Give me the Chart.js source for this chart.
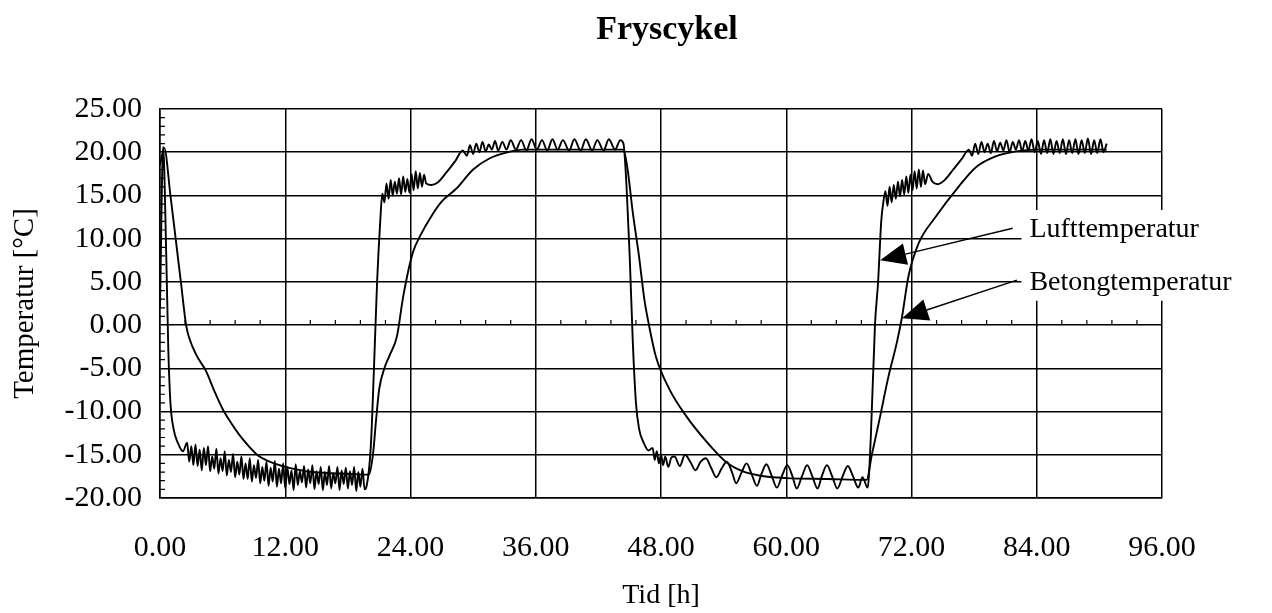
<!DOCTYPE html>
<html>
<head>
<meta charset="utf-8">
<title>Fryscykel</title>
<script src="https://cdn.jsdelivr.net/npm/chart.js@4"></script>
<style>
  html, body { margin: 0; padding: 0; background: #fff; }
  #wrap { width: 1272px; height: 613px; }
</style>
</head>
<body>
<div id="wrap"><canvas id="graf" width="1272" height="613"></canvas></div>
<script>
// Lufttemperatur: tid [h] och temperatur [°C]
const luftTid = [
  0, 0.3, 0.6, 0.8, 1.0, 1.3, 1.7, 2.2,
  2.6, 2.8, 3.0, 3.2, 3.4, 3.6, 3.8, 4.0, 4.2, 4.4, 4.6, 4.8, 5.0, 5.2, 5.4, 5.6, 5.8, 6.0,
  6.2, 6.4, 6.6, 6.8, 7.0, 7.2, 7.4, 7.6, 7.8, 8.0, 8.2, 8.4, 8.6, 8.8, 9.0, 9.2, 9.4, 9.6,
  9.8, 10.0, 10.2, 10.4, 10.6, 10.8, 11.0, 11.2, 11.4, 11.6, 11.8, 12.0, 12.2, 12.4, 12.6,
  12.8, 13.0, 13.2, 13.4, 13.6, 13.8, 14.0, 14.2, 14.4, 14.6, 14.8, 15.0, 15.2, 15.4, 15.6,
  15.8, 16.0, 16.2, 16.4, 16.6, 16.8, 17.0, 17.2, 17.4, 17.6, 17.8, 18.0, 18.2, 18.4, 18.6,
  18.8, 19.0, 19.2, 19.4, 19.6, 19.8,
  20.2, 20.5, 20.8, 21.1, 21.3,
  21.5, 21.7, 21.9, 22.1, 22.3, 22.5, 22.7, 22.9, 23.1, 23.3, 23.5, 23.7, 23.9, 24.1, 24.3,
  24.5, 24.7, 24.9, 25.1, 25.3, 25.5, 26.0, 26.6, 27.4, 28.3, 29.0,
  29.4, 29.7, 30.0, 30.3, 30.6, 30.9, 31.2, 31.5, 31.8, 32.1, 32.4, 32.8, 33.2, 33.6, 34.1,
  34.6, 35.1, 35.6, 36.1, 36.6, 37.1, 37.6, 38.1, 38.6, 39.2, 39.7, 40.3, 40.8, 41.4, 41.9,
  42.5, 43.0, 43.6, 44.1, 44.4,
  44.7, 45.0, 45.3, 45.6, 45.9, 46.3, 46.8, 47.2, 47.4, 47.6, 47.8, 48.0, 48.2, 48.4, 48.7,
  49.0, 49.3, 49.8, 50.3, 50.8, 51.3, 51.8, 52.3, 52.8, 53.3, 53.8, 54.3, 54.8, 55.2, 55.7,
  56.2, 56.7, 57.2, 57.6, 58.1, 58.6, 59.1, 59.6, 60.1, 60.6, 61.0, 61.5, 62.0, 62.5, 63.0,
  63.4, 63.9, 64.4, 64.9, 65.4, 65.9, 66.4, 66.9, 67.3, 67.8,
  68.1, 68.5, 68.8, 69.1, 69.3,
  69.5, 69.7, 69.9, 70.1, 70.3, 70.5, 70.7, 70.9, 71.1, 71.3, 71.5, 71.7, 71.9, 72.1, 72.3,
  72.5, 72.7, 72.9, 73.1, 73.3, 73.6, 74.0, 74.5, 75.2, 76.0, 76.8, 77.5,
  77.8, 78.1, 78.4, 78.7, 79.0, 79.3, 79.6, 79.9, 80.2, 80.5, 80.8, 81.1, 81.4, 81.7, 82.0,
  82.3, 82.6, 82.9, 83.2, 83.5, 83.8, 84.1, 84.4, 84.7, 85.0, 85.3, 85.6, 85.9, 86.2, 86.5,
  86.8, 87.1, 87.4, 87.7, 88.0, 88.3, 88.6, 88.9, 89.2, 89.5, 89.8, 90.1, 90.4, 90.7
];
const luftTemp = [
  2.0, 20.6, 8.0, -3.0, -9.0, -12.0, -13.6, -14.6,
  -13.6, -15.8, -14.0, -16.2, -13.8, -16.3, -14.4, -16.8, -14.2, -16.2, -14.0, -16.9, -15.2, -16.6, -14.3, -17.2, -15.4, -16.9,
  -14.6, -17.4, -15.6, -17.0, -14.9, -17.6, -15.8, -17.3, -15.2, -17.8, -16.0, -17.8, -15.4, -18.1, -16.2, -17.7, -15.6, -18.3,
  -16.4, -18.0, -15.8, -18.6, -16.5, -18.1, -15.7, -18.7, -16.6, -18.3, -16.0, -18.9, -16.4, -18.4, -16.8,
  -19.1, -16.1, -18.5, -16.9, -18.2, -16.3, -18.8, -16.7, -18.3, -16.2, -19.0, -16.9, -18.4, -16.4, -19.1,
  -17.0, -18.5, -16.3, -18.9, -17.1, -18.3, -16.4, -19.1, -16.8, -18.4, -16.5, -18.9, -16.9, -18.5, -16.4,
  -19.2, -17.0, -18.7, -16.6, -19.0, -18.6,
  -14.0, -5.0, 5.0, 12.0, 15.2,
  14.2, 16.4, 14.6, 16.8, 15.0, 16.6, 15.2, 17.0, 15.1, 17.2, 15.4, 16.9, 15.3, 17.5, 15.6,
  17.8, 15.8, 17.6, 16.0, 17.4, 16.4, 16.2, 16.5, 17.6, 19.0, 20.2,
  19.6, 20.8, 19.8, 21.0, 20.0, 21.2, 20.1, 20.9, 20.3, 21.3, 20.2, 21.2, 20.3, 21.4, 20.3,
  21.4, 20.2, 21.5, 20.3, 21.4, 20.2, 21.5, 20.3, 21.4, 20.2, 21.5, 20.2, 21.5, 20.2, 21.4,
  20.2, 21.5, 20.3, 21.4, 21.0,
  16.0, 8.0, -2.0, -9.0, -12.0, -13.5, -14.5, -14.2, -15.6, -14.6, -16.0, -15.0, -16.2, -15.2, -16.4,
  -15.3, -15.2, -16.3, -15.0, -15.8, -16.8, -15.8, -15.4, -16.5, -17.6, -16.6, -15.8, -17.0, -18.3, -17.1,
  -16.0, -17.3, -18.6, -17.3, -16.1, -17.4, -18.8, -17.4, -16.2, -17.5, -18.9, -17.5, -16.2, -17.5, -18.9,
  -17.5, -16.2, -17.5, -18.9, -17.5, -16.3, -17.5, -18.8, -17.6, -18.8,
  -13.0, 0.0, 5.0, 12.0, 14.2,
  15.5, 13.8, 16.0, 14.2, 16.2, 14.6, 16.6, 14.9, 16.8, 15.1, 17.2, 15.3, 17.4, 15.6, 17.8,
  15.8, 18.0, 16.0, 17.9, 16.3, 17.5, 16.6, 16.3, 16.8, 18.0, 19.2, 20.3,
  19.6, 21.0, 19.8, 21.2, 20.0, 21.0, 19.9, 21.3, 20.1, 21.1, 20.2, 21.4, 20.0, 21.2, 20.3,
  21.4, 20.1, 21.3, 20.2, 21.5, 20.0, 21.3, 19.8, 21.4, 19.9, 21.5, 19.8, 21.3, 19.9, 21.5,
  19.8, 21.4, 19.9, 21.5, 19.8, 21.4, 19.9, 21.6, 19.8, 21.4, 19.9, 21.5, 20.0, 21.0
];

// Betongtemperatur: tid [h] och temperatur [°C]
const betongTid = [
  0, 0.4, 1.0, 1.5, 2.0, 2.5, 2.8, 3.5, 4.4, 5.2, 6.0, 6.8, 7.6, 8.5, 9.3, 10.5, 12.0, 14.0,
  16.0, 18.0, 20.0, 20.4, 20.7, 21.0, 21.5, 22.0, 22.7, 23.3, 24.2, 25.0, 25.9, 27.0, 28.4,
  30.0, 31.6, 33.0, 34.8, 44.4, 44.8, 45.3, 45.9, 46.4, 46.8, 47.5, 48.8, 50.4, 52.3, 54.2,
  55.8, 57.4, 60.0, 64.0, 67.7, 68.2, 68.9, 69.8, 70.6, 71.1, 71.7, 72.7, 74.3, 76.5, 78.2,
  80.0, 82.0, 84.0, 90.7
];
const betongTemp = [
  18.5, 20.5, 15.0, 10.0, 5.0, 0.0, -1.5, -3.5, -5.3, -7.6, -9.7, -11.3, -12.7, -14.0, -15.0, -15.8, -16.4, -16.9,
  -17.1, -17.2, -17.3, -15.0, -11.0, -7.4, -5.0, -3.5, -1.3, 3.3, 8.3, 10.5, 12.4, 14.3, 15.8,
  18.0, 19.3, 19.9, 20.3, 20.3, 18.0, 13.0, 7.9, 3.0, 0.3, -3.6, -7.4, -10.5, -13.4, -15.8,
  -16.9, -17.4, -17.7, -17.8, -17.9, -15.0, -11.1, -5.9, -2.0, 1.0, 5.6, 9.5, 12.5, 16.0, 18.3,
  19.5, 20.1, 20.3, 20.3
];

const tidTicks = [0, 12, 24, 36, 48, 60, 72, 84, 96];
const tempTicks = [-20, -15, -10, -5, 0, 5, 10, 15, 20, 25];

// pilar: [text, textTid, textTemp, pilStartTid, pilStartTemp, spetsTid, spetsTemp]
const pilar = [
  ['Lufttemperatur', 83.3, 11.0, 81.7, 11.2, 69.0, 7.5],
  ['Betongtemperatur', 83.3, 4.9, 82.1, 5.2, 71.1, 0.8]
];

const serif = "'Liberation Serif', 'Times New Roman', Times, serif";

function punkter(tid, temp) {
  return tid.map((t, i) => ({ x: t, y: temp[i] }));
}

// små streck på y-axeln och på nollinjen
const smaStreck = {
  id: 'smaStreck',
  afterDraw(chart) {
    const ctx = chart.ctx;
    const xs = chart.scales.x, ys = chart.scales.y;
    ctx.save();
    ctx.strokeStyle = '#000';
    ctx.lineWidth = 1.2;
    ctx.beginPath();
    for (let v = -20; v <= 25; v++) {
      if (v % 5 === 0) continue;
      const y = ys.getPixelForValue(v);
      ctx.moveTo(xs.left, y);
      ctx.lineTo(xs.left + 5, y);
    }
    const y0 = ys.getPixelForValue(0);
    for (let i = 1; i < 40; i++) {
      if (i % 5 === 0) continue;
      const x = xs.getPixelForValue(i * 2.4);
      ctx.moveTo(x, y0);
      ctx.lineTo(x, y0 - 5);
    }
    ctx.stroke();
    ctx.restore();
  }
};

// rubrik, pilar och textetiketter
const etiketter = {
  id: 'etiketter',
  afterDraw(chart) {
    const ctx = chart.ctx;
    const xs = chart.scales.x, ys = chart.scales.y;
    const area = chart.chartArea;
    ctx.save();

    ctx.fillStyle = '#000';
    ctx.font = 'bold 34px ' + serif;
    ctx.textAlign = 'center';
    ctx.textBaseline = 'middle';
    ctx.fillText('Fryscykel', (area.left + area.right) / 2 + 6, 30);

    // vit bakgrund bakom texterna
    const bx = xs.getPixelForValue(pilar[0][1]) - 8;
    const by1 = ys.getPixelForValue(pilar[0][2]) - 20;
    const by2 = ys.getPixelForValue(pilar[1][2]) + 18;
    ctx.fillStyle = '#fff';
    ctx.fillRect(bx, by1, chart.width - bx, by2 - by1);

    ctx.font = '28px ' + serif;
    ctx.textAlign = 'left';
    pilar.forEach(p => {
      const tx = xs.getPixelForValue(p[1]), ty = ys.getPixelForValue(p[2]);
      ctx.fillStyle = '#000';
      ctx.fillText(p[0], tx, ty);

      const sx = xs.getPixelForValue(p[3]), sy = ys.getPixelForValue(p[4]);
      const ex = xs.getPixelForValue(p[5]), ey = ys.getPixelForValue(p[6]);
      const ang = Math.atan2(ey - sy, ex - sx);
      const len = 26, half = 11;
      const bx2 = ex - len * Math.cos(ang), by3 = ey - len * Math.sin(ang);
      ctx.strokeStyle = '#000';
      ctx.lineWidth = 1.4;
      ctx.beginPath();
      ctx.moveTo(sx, sy);
      ctx.lineTo(bx2, by3);
      ctx.stroke();
      ctx.beginPath();
      ctx.moveTo(ex, ey);
      ctx.lineTo(bx2 + half * Math.sin(ang), by3 - half * Math.cos(ang));
      ctx.lineTo(bx2 - half * Math.sin(ang), by3 + half * Math.cos(ang));
      ctx.closePath();
      ctx.fill();
    });
    ctx.restore();
  }
};

new Chart(document.getElementById('graf'), {
  type: 'line',
  data: {
    datasets: [
      { label: 'Lufttemperatur', data: punkter(luftTid, luftTemp) },
      { label: 'Betongtemperatur', data: punkter(betongTid, betongTemp) }
    ]
  },
  options: {
    responsive: false,
    animation: false,
    layout: { padding: { top: 109, right: 110, left: 0, bottom: 0 } },
    elements: {
      point: { radius: 0 },
      line: {
        borderColor: '#000', borderWidth: 1.9, fill: false,
        cubicInterpolationMode: 'monotone'
      }
    },
    plugins: {
      legend: { display: false },
      tooltip: { enabled: false },
      title: { display: false }
    },
    scales: {
      x: {
        type: 'linear',
        min: 0, max: 96,
        afterFit: s => { s.height = 115; },
        afterBuildTicks: s => { s.ticks = tidTicks.map(v => ({ value: v })); },
        ticks: {
          callback: v => v.toFixed(2),
          color: '#000',
          padding: 32,
          maxRotation: 0,
          autoSkip: false,
          font: { family: serif, size: 30 }
        },
        grid: { color: '#000', lineWidth: 1.5, drawTicks: false },
        border: { color: '#000', width: 1.5 },
        title: {
          display: true, text: 'Tid [h]', color: '#000',
          padding: { top: 0, bottom: 1 },
          font: { family: serif, size: 28 }
        }
      },
      y: {
        min: -20, max: 25,
        afterFit: s => { s.width = 160; },
        afterBuildTicks: s => { s.ticks = tempTicks.map(v => ({ value: v })); },
        ticks: {
          callback: v => v.toFixed(2),
          color: '#000',
          padding: 18,
          autoSkip: false,
          font: { family: serif, size: 30 }
        },
        grid: { color: '#000', lineWidth: 1.5, drawTicks: false },
        border: { color: '#000', width: 1.5 },
        title: {
          display: true, text: 'Temperatur [°C]', color: '#000',
          padding: { top: 8, bottom: 0 },
          font: { family: serif, size: 29 }
        }
      }
    }
  },
  plugins: [smaStreck, etiketter]
});
</script>
</body>
</html>
